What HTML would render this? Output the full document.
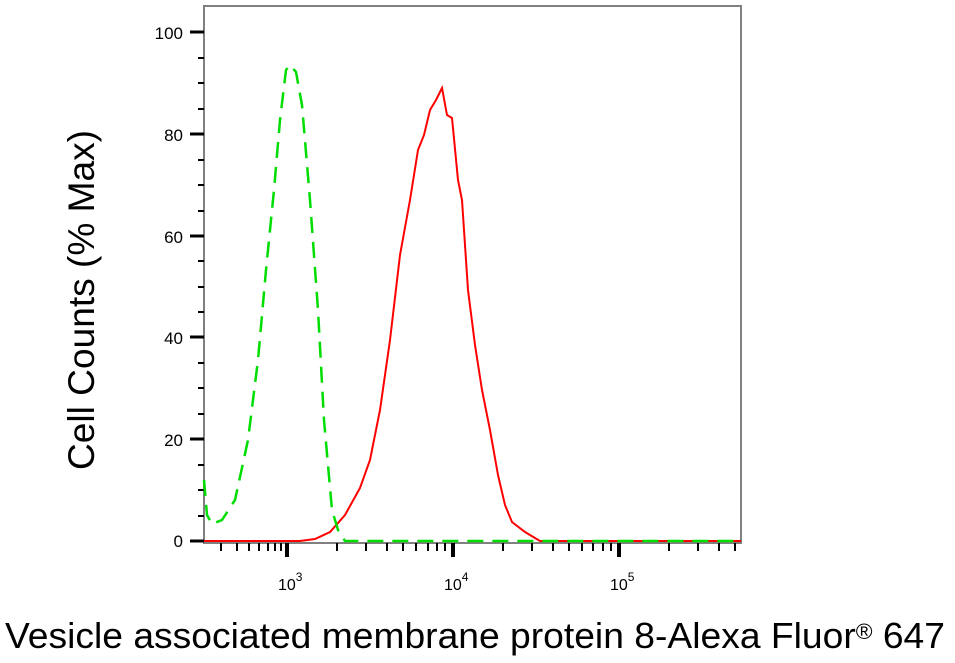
<!DOCTYPE html>
<html><head><style>body{margin:0;background:#fff}svg{display:block}</style></head><body>
<svg width="955" height="663" xmlns="http://www.w3.org/2000/svg" font-family="Liberation Sans, Arial, sans-serif">
<rect width="955" height="663" fill="#fff"/>
<rect x="204" y="6" width="537" height="537" fill="none" stroke="#808080" stroke-width="2"/>
<g stroke="#000" stroke-width="3">
<line x1="190" y1="32" x2="204" y2="32"/><line x1="190" y1="134" x2="204" y2="134"/><line x1="190" y1="236" x2="204" y2="236"/><line x1="190" y1="337" x2="204" y2="337"/><line x1="190" y1="439" x2="204" y2="439"/><line x1="190" y1="541" x2="204" y2="541"/>
</g>
<g stroke="#000" stroke-width="2">
<line x1="198" y1="58" x2="204" y2="58"/><line x1="198" y1="83" x2="204" y2="83"/><line x1="198" y1="109" x2="204" y2="109"/>
<line x1="198" y1="160" x2="204" y2="160"/><line x1="198" y1="185" x2="204" y2="185"/><line x1="198" y1="211" x2="204" y2="211"/>
<line x1="198" y1="261" x2="204" y2="261"/><line x1="198" y1="287" x2="204" y2="287"/><line x1="198" y1="312" x2="204" y2="312"/>
<line x1="198" y1="363" x2="204" y2="363"/><line x1="198" y1="388" x2="204" y2="388"/><line x1="198" y1="414" x2="204" y2="414"/>
<line x1="198" y1="465" x2="204" y2="465"/><line x1="198" y1="490" x2="204" y2="490"/><line x1="198" y1="516" x2="204" y2="516"/>
</g>
<g font-size="17" text-anchor="end" fill="#000">
<text x="183" y="39">100</text><text x="183" y="141">80</text><text x="183" y="243">60</text><text x="183" y="344">40</text><text x="183" y="446">20</text><text x="183" y="547">0</text>
</g>
<g stroke="#000" stroke-width="2">
<line x1="221" y1="543" x2="221" y2="551"/><line x1="237" y1="543" x2="237" y2="551"/><line x1="249" y1="543" x2="249" y2="551"/><line x1="259" y1="543" x2="259" y2="551"/><line x1="268" y1="543" x2="268" y2="551"/><line x1="275" y1="543" x2="275" y2="551"/><line x1="281" y1="543" x2="281" y2="551"/>
<line x1="287" y1="543" x2="287" y2="557" stroke-width="4"/>
<line x1="337" y1="543" x2="337" y2="551"/><line x1="366" y1="543" x2="366" y2="551"/><line x1="387" y1="543" x2="387" y2="551"/><line x1="403" y1="543" x2="403" y2="551"/><line x1="416" y1="543" x2="416" y2="551"/><line x1="428" y1="543" x2="428" y2="551"/><line x1="437" y1="543" x2="437" y2="551"/><line x1="445" y1="543" x2="445" y2="551"/>
<line x1="453" y1="543" x2="453" y2="557" stroke-width="4"/>
<line x1="503" y1="543" x2="503" y2="551"/><line x1="532" y1="543" x2="532" y2="551"/><line x1="553" y1="543" x2="553" y2="551"/><line x1="569" y1="543" x2="569" y2="551"/><line x1="582" y1="543" x2="582" y2="551"/><line x1="593" y1="543" x2="593" y2="551"/><line x1="603" y1="543" x2="603" y2="551"/><line x1="611" y1="543" x2="611" y2="551"/>
<line x1="619" y1="543" x2="619" y2="557" stroke-width="4"/>
<line x1="669" y1="543" x2="669" y2="551"/><line x1="698" y1="543" x2="698" y2="551"/><line x1="719" y1="543" x2="719" y2="551"/><line x1="735" y1="543" x2="735" y2="551"/>
</g>
<g font-size="16" fill="#000">
<text x="278" y="590">10<tspan dy="-9" font-size="12">3</tspan></text>
<text x="444" y="590">10<tspan dy="-9" font-size="12">4</tspan></text>
<text x="610" y="590">10<tspan dy="-9" font-size="12">5</tspan></text>
</g>
<polyline fill="none" stroke="#ff0000" stroke-width="2" points="204,541 300,541 315,539 330,532 345,515 360,488 370,460 380,410 390,340 400,255 410,200 418,150 424,135 430,110 436,100 442,88 447,115 452,118 458,180 462,200 468,290 475,345 482,390 490,430 498,475 505,505 512,522 525,532 540,541 741,541"/>
<polyline fill="none" stroke="#00dd00" stroke-width="2.5" stroke-dasharray="16,9" points="204,480 207,515 212,524 222,520 235,500 248,440 258,360 266,270 274,190 280,120 286,70 290,65 296,72 302,105 310,200 318,310 324,420 332,510 338,530 345,541 741,541"/>
<text transform="translate(94,300) rotate(-90)" font-size="37" text-anchor="middle" fill="#000" textLength="340" lengthAdjust="spacingAndGlyphs">Cell Counts (% Max)</text>
<text x="5" y="648" font-size="36" fill="#000" textLength="940" lengthAdjust="spacingAndGlyphs">Vesicle associated membrane protein 8-Alexa Fluor<tspan font-size="22" dy="-9">®</tspan><tspan dy="9"> 647</tspan></text>
</svg>
</body></html>
